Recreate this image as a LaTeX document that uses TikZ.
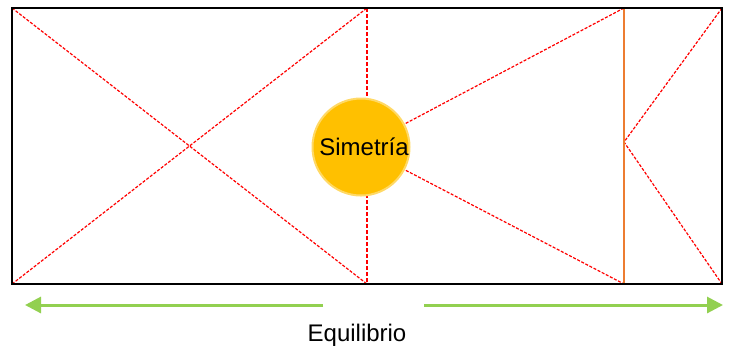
\documentclass[tikz,border=0pt]{standalone}
\usepackage{fontspec}
\setmainfont{Liberation Sans}
\usetikzlibrary{arrows.meta,positioning}
\definecolor{guide}{HTML}{FF0000}
\definecolor{sun}{HTML}{FFC000}
\definecolor{sunrim}{HTML}{FFD966}
\definecolor{axis}{HTML}{ED7D31}
\definecolor{leaf}{HTML}{92D050}

\begin{document}
\begin{tikzpicture}[x=.5pt,y=-.5pt,
      frame/.style={draw=black,line width=1.3pt},
      guideline/.style={draw=guide,line width=.6pt,dash pattern=on 1.5pt off .8pt},
      axisline/.style={draw=axis,line width=.7pt},
      ball/.style={circle,fill=sun,draw=sunrim,line width=1pt,
        minimum size=48.5pt,inner sep=0pt,font=\fontsize{12}{14}\selectfont},
      balance/.style={draw=leaf,line width=1.5pt,
        -{Triangle[length=8pt,width=8pt]}}
    ]
    \useasboundingbox (0,0) rectangle (731,350);

    \coordinate (tl) at (12,8);
    \coordinate (tr) at (722,8);
    \coordinate (bl) at (12,284);
    \coordinate (br) at (722,284);
    \coordinate (mt) at (367,8);
    \coordinate (mb) at (367,284);
    \coordinate (ot) at (624,8);
    \coordinate (ob) at (624,284);
    \coordinate (om) at (624,142);
    \coordinate (c) at (361,147);

    \draw[guideline] (tl) -- (mb);
    \draw[guideline] (bl) -- (mt);
    \draw[guideline,line width=.9pt,dash pattern=on 2pt off 1pt] (mt) -- (mb);
    \draw[guideline] (c) -- (ot);
    \draw[guideline] (c) -- (ob);
    \draw[guideline] (tr) -- (om) -- (br);
    \draw[axisline] (ot) -- (ob);
    \draw[frame] (tl) rectangle (br);

    \node[ball] (sim) at (c) {\hspace{3pt}Simetría};

    \coordinate (la) at (323,305);
    \coordinate (lt) at (25,305);
    \coordinate (ra) at (424,305);
    \coordinate (rt) at (723,305);
    \draw[balance] (la) -- (lt);
    \draw[balance] (ra) -- (rt);

    \node[font=\fontsize{12}{14}\selectfont] (eq) at (357,335) {Equilibrio};
  \end{tikzpicture}
\end{document}
